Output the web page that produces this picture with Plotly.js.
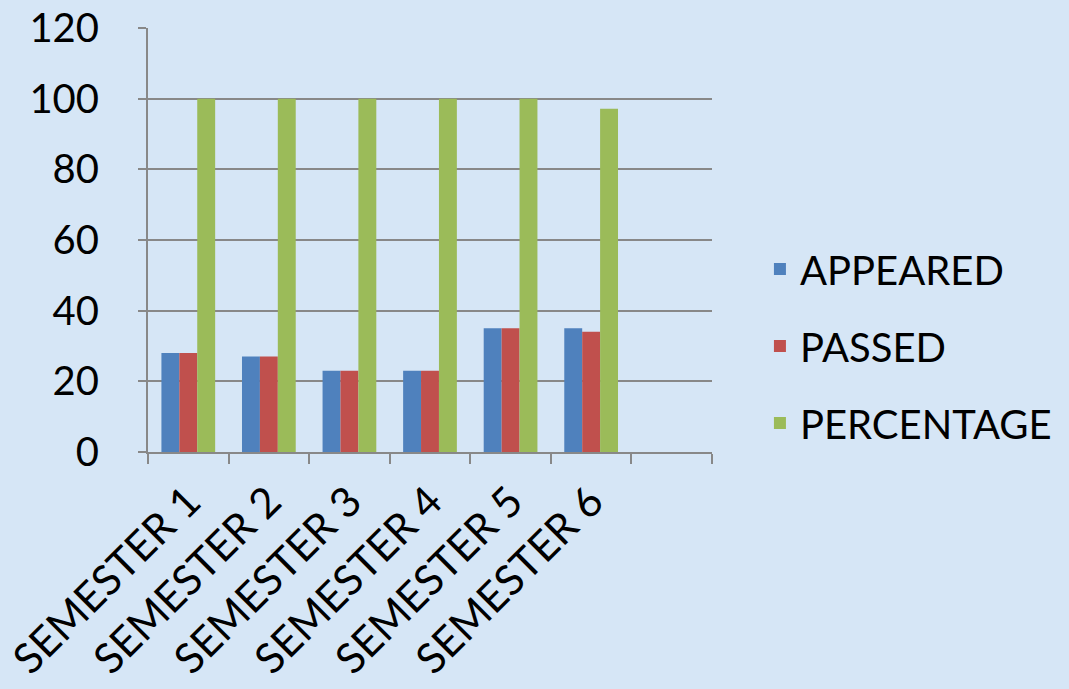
<!DOCTYPE html>
<html>
<head>
<meta charset="utf-8">
<script src="https://cdn.plot.ly/plotly-3.0.1.min.js"></script>
<style>html,body{margin:0;padding:0;background:#d6e6f6;}#chart{width:1069px;height:689px;}</style>
</head>
<body>
<div id="chart"></div>
<script>
const categories = ['SEMESTER 1','SEMESTER 2','SEMESTER 3','SEMESTER 4','SEMESTER 5','SEMESTER 6'];
const axisSlots = ['SEMESTER 1','SEMESTER 2','SEMESTER 3','SEMESTER 4','SEMESTER 5','SEMESTER 6',' '];
const appeared = [28, 27, 23, 23, 35, 35];
const passed = [28, 27, 23, 23, 35, 34];
const percentage = [100, 100, 100, 100, 100, 97.14];
const yTicks = [0, 20, 40, 60, 80, 100, 120];

const font = 'Lato, "Open Sans", sans-serif';
const traces = [
  {name:'APPEARED', y:appeared, color:'#4f81bd'},
  {name:'PASSED', y:passed, color:'#c0504d'},
  {name:'PERCENTAGE', y:percentage, color:'#9bbb59'}
].map(s => ({
  type:'bar', x:categories, y:s.y, name:s.name, legendgroup:s.name,
  marker:{color:s.color, line:{width:0}}, hoverinfo:'skip'
}));

const layout = {
  width:1069, height:689,
  margin:{l:148, r:355, t:28, b:237, pad:0},
  paper_bgcolor:'#d6e6f6', plot_bgcolor:'rgba(0,0,0,0)',
  font:{family:font, color:'#000', size:40},
  barmode:'group', bargap:0.333, bargroupgap:0,
  showlegend:true,
  legend:{x:1.085, xanchor:'left', y:0.25, yanchor:'middle', traceorder:'grouped', tracegroupgap:22,
    font:{family:font, size:40, color:'#000'}, bgcolor:'rgba(0,0,0,0)'},
  xaxis:{type:'category', categoryorder:'array', categoryarray:axisSlots, range:[-0.5, 6.5],
    tickson:'boundaries', ticks:'outside', ticklen:10, tickwidth:2, tickcolor:'#888',
    showline:true, linecolor:'#888', linewidth:2, showgrid:false, tickangle:-45,
    ticklabelstandoff:6,
    tickfont:{family:font, size:42, color:'#000'}, fixedrange:true},
  yaxis:{range:[0,120], tickvals:yTicks, ticks:'outside', ticklen:8, tickwidth:2, tickcolor:'#888',
    showline:true, linecolor:'#888', linewidth:2, showgrid:true, gridcolor:'#888', gridwidth:2,
    zeroline:false, ticklabelstandoff:31, tickfont:{family:font, size:40, color:'#000'}, fixedrange:true}
};

Plotly.newPlot('chart', traces, layout, {displayModeBar:false, staticPlot:true});
</script>
</body>
</html>
